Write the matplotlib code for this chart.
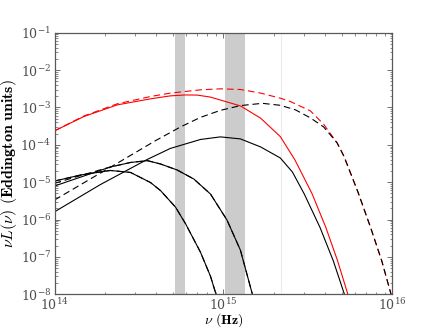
import matplotlib
matplotlib.use("Agg")
import matplotlib.pyplot as plt

# spectra (nu in Hz, nuL in Eddington units)
red_solid_nu = [1.00e14, 1.49e14, 2.35e14, 3.70e14, 4.85e14, 5.96e14, 7.00e14, 8.38e14,
                1.26e15, 1.66e15, 2.17e15, 2.65e15, 3.34e15, 4.03e15, 4.74e15, 5.45e15]
red_solid_L = [2.36e-4, 5.69e-4, 1.17e-3, 1.70e-3, 2.04e-3, 2.16e-3, 2.14e-3, 1.89e-3,
               1.10e-3, 5.16e-4, 1.66e-4, 3.93e-5, 5.00e-6, 6.28e-7, 7.83e-8, 1.0e-8]

red_dash_nu = [1.00e14, 1.49e14, 2.35e14, 3.70e14, 4.85e14, 7.31e14, 9.59e14, 1.26e15,
               1.66e15, 2.17e15, 2.49e15, 3.27e15, 3.92e15, 4.71e15, 5.16e15, 6.24e15,
               7.43e15, 8.65e15, 9.82e15]
red_dash_L = [2.36e-4, 5.89e-4, 1.25e-3, 1.96e-3, 2.42e-3, 2.96e-3, 3.15e-3, 3.02e-3,
              2.42e-3, 1.77e-3, 1.44e-3, 8.09e-4, 3.55e-4, 1.12e-4, 5.0e-5, 5.6e-6,
              6.12e-7, 7.83e-8, 1.0e-8]

black_dash_nu = [1.00e14, 1.63e14, 2.46e14, 3.96e14, 5.57e14, 7.31e14, 9.59e14, 1.26e15,
                 1.70e15, 2.17e15, 2.67e15, 3.27e15, 3.92e15, 4.71e15, 5.16e15, 6.24e15,
                 7.43e15, 8.65e15, 9.82e15]
black_dash_L = [3.33e-6, 1.22e-5, 3.62e-5, 1.29e-4, 3.01e-4, 5.42e-4, 8.35e-4, 1.12e-3,
                1.29e-3, 1.14e-3, 8.61e-4, 5.26e-4, 3.00e-4, 1.12e-4, 5.0e-5, 5.6e-6,
                6.12e-7, 7.83e-8, 1.0e-8]

black_solid_nu = [1.00e14, 1.87e14, 3.54e14, 4.85e14, 7.31e14, 9.59e14, 1.26e15, 1.66e15,
                  2.17e15, 2.56e15, 3.01e15, 3.73e15, 4.47e15, 5.20e15]
black_solid_L = [1.61e-6, 8.65e-6, 4.06e-5, 8.00e-5, 1.39e-4, 1.63e-4, 1.44e-4, 8.77e-5,
                 4.45e-5, 1.87e-5, 4.81e-6, 6.12e-7, 7.83e-8, 1.0e-8]

cool_nu = [1.00e14, 1.43e14, 2.14e14, 2.82e14, 3.70e14, 4.24e14, 5.20e14, 5.96e14,
           7.31e14, 8.38e14, 9.04e14]
cool_L = [1.07e-5, 1.56e-5, 2.06e-5, 1.82e-5, 9.79e-6, 5.97e-6, 2.16e-6, 7.78e-7,
          1.34e-7, 3.04e-8, 1.0e-8]

warm_nu = [1.00e14, 1.43e14, 2.14e14, 2.82e14, 3.55e14, 4.24e14, 5.32e14, 6.67e14,
           8.38e14, 1.05e15, 1.26e15, 1.48e15]
warm_L = [7.89e-6, 1.37e-5, 2.55e-5, 3.37e-5, 3.77e-5, 3.07e-5, 2.12e-5, 1.22e-5,
          4.82e-6, 9.66e-7, 1.52e-7, 1.04e-8]
warm_dash_L = [9.31e-6, 1.51e-5, 2.55e-5, 3.37e-5, 3.77e-5, 3.07e-5, 2.12e-5, 1.22e-5,
               4.82e-6, 9.66e-7, 1.52e-7, 1.04e-8]

# observed bands and a marker line
bands = [(5.2e14, 5.96e14), (1.02e15, 1.34e15)]
marker_nu = 2.2e15

plt.rcParams["mathtext.fontset"] = "cm"
plt.rcParams["font.family"] = "serif"

fig = plt.figure(figsize=(4.36, 3.27), dpi=100)
ax = fig.add_subplot(111)
fig.subplots_adjust(left=0.125, right=0.9, bottom=0.1, top=0.9)

for lo, hi in bands:
    ax.axvspan(lo, hi, color="0.8", lw=0, zorder=0)
ax.axvline(marker_nu, color="0.92", lw=0.8, zorder=0)

lw = 0.8
dash = (6, 3.5)
ax.plot(red_solid_nu, red_solid_L, color="red", lw=lw)
ax.plot(red_dash_nu, red_dash_L, color="red", lw=lw, ls="--", dashes=dash)
ax.plot(black_solid_nu, black_solid_L, color="black", lw=lw)
ax.plot(black_dash_nu, black_dash_L, color="black", lw=lw, ls="--", dashes=dash)
ax.plot(cool_nu, cool_L, color="black", lw=lw)
ax.plot(cool_nu, cool_L, color="black", lw=lw, ls="--", dashes=dash)
ax.plot(warm_nu, warm_L, color="black", lw=lw)
ax.plot(warm_nu, warm_dash_L, color="black", lw=lw, ls="--", dashes=dash)

ax.set_xscale("log")
ax.set_yscale("log")
ax.set_xlim(1e14, 1e16)
ax.set_ylim(1e-8, 1e-1)

ax.tick_params(which="both", direction="in", top=True, right=True, colors="0.35",
               labelcolor="0.3", labelsize=9)
ax.tick_params(axis="x", pad=2)
ax.tick_params(axis="y", pad=2.5)
ax.tick_params(which="major", length=3.5, width=0.6)
ax.tick_params(which="minor", length=1.8, width=0.5)
for s in ax.spines.values():
    s.set_color("0.35")
    s.set_linewidth(0.9)

ax.set_xlabel(r"$\nu$ $\mathbf{(Hz)}$", fontsize=10, labelpad=-1)
ax.set_ylabel(r"$\nu L(\nu)$ $\mathbf{(Eddington\ units)}$", fontsize=11.5, labelpad=1)

fig.savefig("out.png", dpi=100)
